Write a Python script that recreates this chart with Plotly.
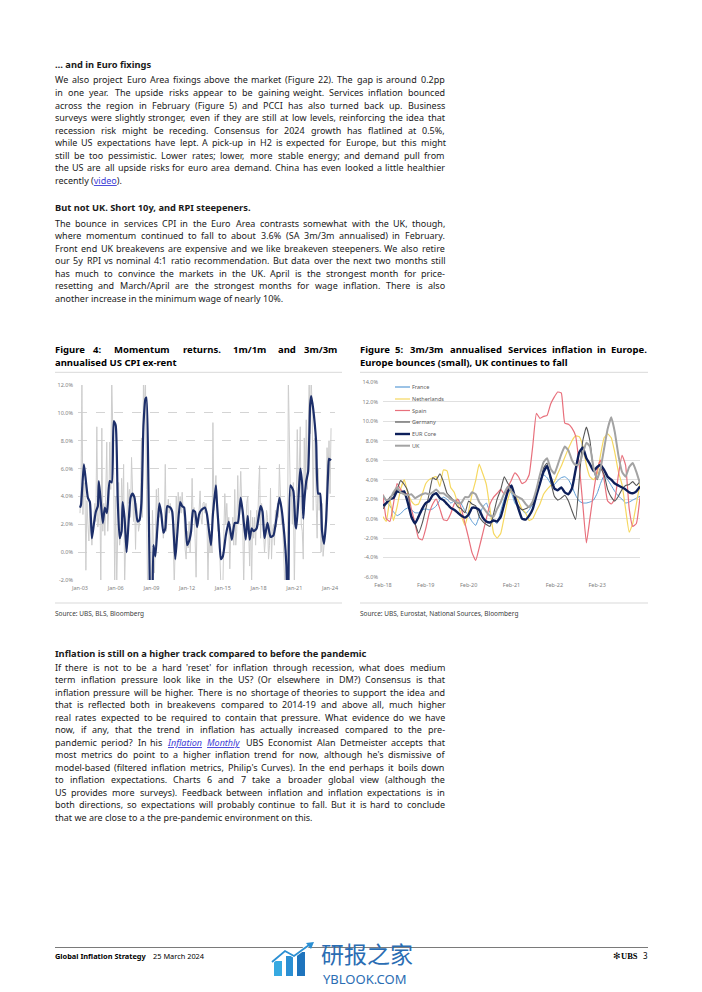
import re
import plotly.graph_objects as go
import pandas as pd

# ---------------- DATA: Figure 4 (US CPI ex-rent, annualised %) ----------------
us_1m1m_start = "2003-01-01"
us_1m1m = [
    2.8, 4.5, 12.5, 2.7, 5.0, 4.9, -1.3, 3.7, 2.0, 0.8, 3.6, 1.2,      # 2003
    0.5, 1.8, 2.5, 3.5, 2.2, 9.0, 1.8, 2.5, 4.2, -2.5, 8.9, 1.5,       # 2004
    3.5, 1.2, 4.0, 7.9, 1.5, 3.0, 7.9, 4.5, 12.5, 9.0, 5.5, -2.5,      # 2005
    4.0, -2.5, 3.0, 5.0, 0.5, 1.2, 5.3, 3.0, 6.3, -2.5, 0.8, 0.5,      # 2006
    5.0, 3.5, 4.5, 2.5, 6.8, 3.5, 2.2, 4.0, 0.2, 3.5, 2.8, 1.5,        # 2007
    2.0, 3.5, 8.2, 2.5, 12.5, 10.0, 12.5, 4.5, -1.0, -12.0, -15.0, -8.0,  # 2008
    -2.5, 3.0, 0.5, -1.5, 0.8, 4.5, 1.0, 4.6, 2.5, 3.2, 3.0, 1.5,      # 2009
    1.0, 2.0, 6.3, 1.5, 3.0, 3.8, 2.8, 3.5, 3.0, 2.5, 1.0, -2.5,       # 2010
    0.5, 4.0, 1.5, 4.3, 3.0, 4.0, 2.8, 4.3, 3.0, 2.5, 0.2, -0.5,       # 2011
    1.5, 0.3, 2.2, 0.0, 1.8, 5.3, 2.5, 3.2, 1.0, -1.8, 2.5, 2.0,       # 2012
    3.0, 4.4, 2.5, 2.0, 3.5, 3.6, 2.8, 3.5, 2.0, -2.0, 1.5, 0.0,       # 2013
    1.5, 0.0, 9.3, 3.0, 4.5, 5.5, 3.5, 1.5, 2.0, -0.5, -2.5, -2.5,     # 2014
    -2.5, 1.5, 4.2, 2.0, 3.5, 1.8, 2.5, -1.2, 1.5, 0.8, 2.5, 0.5,      # 2015
    4.5, 0.5, 1.5, 5.5, 2.0, 3.5, 5.8, 3.5, 2.0, -2.5, 2.0, 1.0,       # 2016
    3.5, 4.0, 1.0, -1.0, 3.0, -2.5, 2.5, 1.0, 2.5, 0.5, 3.0, 1.8,      # 2017
    4.5, 6.2, 1.0, 3.5, 3.0, 1.5, 0.0, 1.0, 3.0, 2.5, -0.5, 0.5,       # 2018
    4.6, -0.5, 1.5, 2.0, 0.5, 3.0, 1.8, 3.5, 2.5, 6.3, 3.0, 2.0,       # 2019
    2.5, 1.0, -1.5, -12.0, -6.0, -3.0, 12.5, 6.0, 4.0, 4.5, 2.0, 5.0,  # 2020
    -2.5, 2.5, 3.0, 8.8, 4.0, 6.0, 9.0, 2.0, 1.5, -0.5, 8.2, 5.0,      # 2021
    9.5, 4.5, 9.8, 12.5, 8.5, 12.5, 10.4, 3.0, 8.0, 8.2, 3.5, 1.0,     # 2022
    6.0, 3.0, 4.0, 0.0, 3.5, -0.3, 0.5, 2.0, 3.0, 7.5, 5.5, 8.0,       # 2023
    4.2, 8.9,                                                          # 2024
]
us_3m3m_dates = [
    "2003-01", "2003-02", "2003-05", "2003-07", "2003-09", "2003-11",
    "2004-01", "2004-03", "2004-05", "2004-07", "2004-08", "2004-10", "2004-12",
    "2005-02", "2005-04", "2005-05", "2005-07", "2005-09", "2005-11",
    "2006-01", "2006-03", "2006-05", "2006-07", "2006-08", "2006-10", "2006-12",
    "2007-02", "2007-04", "2007-06", "2007-08", "2007-11",
    "2008-01", "2008-03", "2008-05", "2008-07", "2008-08", "2008-10", "2008-12",
    "2009-01", "2009-02", "2009-03", "2009-05", "2009-07", "2009-09", "2009-11",
    "2010-01", "2010-03", "2010-05", "2010-08", "2010-10",
    "2011-01", "2011-03", "2011-06", "2011-08", "2011-10",
    "2012-01", "2012-03", "2012-05", "2012-07", "2012-09", "2012-11",
    "2013-01", "2013-03", "2013-07", "2013-09",
    "2014-01", "2014-03", "2014-06", "2014-07", "2014-09", "2014-11",
    "2015-01", "2015-04", "2015-07", "2015-10",
    "2016-01", "2016-04", "2016-07", "2016-09", "2016-12",
    "2017-02", "2017-04", "2017-06", "2017-08", "2017-11",
    "2018-03", "2018-05", "2018-07", "2018-10",
    "2019-01", "2019-04", "2019-07", "2019-10", "2019-12",
    "2020-03", "2020-05", "2020-06", "2020-07", "2020-09", "2020-12",
    "2021-02", "2021-03", "2021-05", "2021-07", "2021-09", "2021-10", "2021-11",
    "2022-01", "2022-03", "2022-05", "2022-06", "2022-08", "2022-11",
    "2023-01", "2023-03", "2023-05", "2023-07", "2023-09", "2023-11", "2023-12",
    "2024-02",
]
us_3m3m = [
    3.2, 3.4, 6.3, 5.1, 3.9, 3.6,
    1.0, 2.0, 2.9, 3.3, 5.1, 3.6, 2.1,
    3.2, 2.8, 3.4, 5.1, 5.0, 9.4,
    9.1, 3.9, 1.0, 1.5, 3.6, 2.4, 0.0,
    2.2, 3.9, 4.2, 3.9, 2.2,
    2.3, 3.6, 9.1, 11.0, 11.1, 4.8, -6.0,
    -9.0, -5.0, 0.5, -0.3, 1.7, 3.5, 2.7,
    1.4, 1.7, 3.3, 3.2, 2.9,
    -0.5, 1.2, 3.6, 3.3, 3.2,
    0.5, 0.8, 1.5, 3.0, 2.9, 1.8,
    2.7, 3.0, 3.2, 2.7,
    0.5, 2.7, 4.8, 3.6, 1.5, -0.5,
    -0.3, 1.2, 2.2, 0.9,
    2.1, 2.1, 3.9, 2.9, 0.9,
    2.6, 0.9, 1.7, 1.5, 1.7,
    3.3, 2.9, 1.0, 2.1,
    1.1, 1.2, 2.4, 3.9, 3.2,
    1.2, -0.9, -4.0, -3.0, 4.8, 4.4,
    2.0, 1.7, 3.6, 6.0, 4.8, 2.4, 3.6,
    5.1, 5.8, 10.6, 11.2, 10.3, 7.9,
    4.2, 4.2, 1.5, 0.6, 2.2, 5.6, 6.7,
    6.6,
]
fig4_xtick_dates = ["2003-01-01", "2006-01-01", "2009-01-01", "2012-01-01",
                    "2015-01-01", "2018-01-01", "2021-01-01", "2024-01-01"]
fig4_xtick_labels = ["Jan-03", "Jan-06", "Jan-09", "Jan-12", "Jan-15", "Jan-18", "Jan-21", "Jan-24"]
fig4_ytick_vals = [-2, 0, 2, 4, 6, 8, 10, 12]
fig4_ytick_labels = ["-2.0%", "0.0%", "2.0%", "4.0%", "6.0%", "8.0%", "10.0%", "12.0%"]

# ---------------- DATA: Figure 5 (3m/3m annualised services inflation, %) ----------------
eu_start = "2018-02-01"
france = [
    2.2, 1.8, 1.3, 0.7, 0.3, 0.5, 0.9, 1.1, 0.9, 0.6, 0.6, 0.9,
    1.0, 0.9, 1.0, 1.3, 1.9, 2.2, 2.0, 1.6, 1.8, 2.0, 1.5, 0.8,
    0.3, -0.3, -0.7, 0.2, 1.2, 1.6, 0.6, -0.2, -0.5, 0.8, 2.0, 2.8,
    2.6, 1.6, 1.2, 0.9, 0.5, 0.9, 1.5, 2.6, 3.8, 4.5, 4.2, 3.6,
    3.5, 3.9, 4.2, 4.3, 4.0, 3.3, 2.4, 1.8, 1.6, 1.6, 1.7, 1.9,
    2.6, 3.6, 4.4, 4.0, 3.4, 2.8, 2.3, 2.0, 1.6, 1.7, 1.9, 2.1, 2.3,
]
netherlands = [
    0.2, -0.3, 2.0, -0.2, 1.2, 3.0, 4.0, 2.6, 1.8, 1.4, 1.5, 2.5,
    3.6, 4.0, 4.2, 4.3, 3.3, 5.0, 4.9, 3.2, 2.7, 1.5, 0.3, -0.7,
    0.8, 2.5, 3.9, 5.6, 4.6, 3.5, 1.0, -1.5, -2.0, -1.5, 0.2, 2.0,
    3.0, 2.4, 1.8, 1.0, 0.6, -0.2, 0.0, 0.8, 1.5, 2.5, 3.0, 3.4,
    3.8, 4.6, 5.4, 6.3, 7.2, 8.0, 8.5, 8.4, 7.5, 5.5, 4.3, 4.0,
    4.6, 6.5, 8.3, 8.7, 8.3, 6.8, 4.8, 3.5, 1.0, -1.4, -0.5, 1.5, 3.6,
]
spain = [
    2.5, 0.0, -0.3, 1.5, 3.6, 3.0, 2.6, 2.5, 1.0, -0.5, -2.0, -2.2,
    -1.0, 0.5, 1.5, 2.0, 1.0, -0.1, -0.2, 0.5, 1.5, 2.0, 1.0, -0.5,
    -2.0, -3.5, -4.3, -3.0, -1.5, 0.0, 1.5, 2.2, 2.6, 3.0, 2.5, 3.2,
    4.0, 4.7, 4.3, 3.6, 3.8, 4.5, 7.5, 10.8, 10.3, 10.5, 10.6, 11.8,
    12.5, 13.0, 12.9, 9.8, 9.7, 9.3, 8.5, 5.5, 1.5, -2.5, 0.0, 2.7,
    5.0, 6.0, 4.0, 1.8, 1.5, 2.0, 4.5, 6.5, 5.5, 1.0, -0.8, -0.5, 2.2,
]
germany = [
    1.0, 1.5, 2.2, 2.5, 3.0, 3.9, 3.5, 2.8, 0.0, -0.5, -1.5, -0.5,
    1.0, 2.5, 4.2, 4.0, 4.6, 3.8, 2.6, 2.2, 1.8, 1.2, 1.0, 0.6,
    1.8, 1.5, 1.3, 0.2, -0.3, -0.6, -0.8, 0.5, 2.0, 3.0, 4.3, 3.6,
    3.2, 2.0, 1.3, 0.9, 1.0, 1.2, 1.5, 2.5, 3.6, 5.2, 5.7, 3.8,
    2.3, 1.9, 2.1, 2.4, 1.8, 0.8, -0.1, 4.0, 8.0, 9.4, 8.0, 5.0,
    4.0, 5.2, 4.5, 3.0, 2.2, 1.8, 2.3, 3.0, 3.4, 3.5, 3.8, 3.4, 3.8,
]
eur_core = [
    1.3, 1.6, 2.0, 2.1, 2.8, 2.7, 2.8, 1.6, 0.2, -0.5, 0.2, 1.0,
    1.6, 1.8, 2.4, 2.6, 2.1, 1.9, 1.5, 1.1, 0.9, 0.6, 0.3, 0.1,
    0.4, 1.1, 1.1, 0.9, 0.1, -0.3, -0.4, -0.2, -0.3, 0.2, 1.5, 2.8,
    3.4, 2.2, 1.0, 0.0, -0.1, 0.3, 1.0, 2.4, 3.6, 4.8, 5.4, 4.2,
    3.1, 2.9, 3.2, 2.7, 2.5, 3.1, 5.0, 6.8, 7.3, 6.2, 5.6, 4.9,
    5.3, 5.5, 5.0, 4.3, 4.0, 3.6, 3.4, 3.2, 3.0, 2.7, 2.6, 2.8, 3.3,
]
uk = [
    2.4, 1.9, 2.0, 2.7, 3.2, 2.7, 2.5, 2.4, 2.5, 2.1, 2.3, 2.5,
    2.6, 2.5, 2.7, 3.0, 2.6, 2.6, 2.3, 2.0, 1.8, 1.6, 1.6, 2.2,
    2.2, 2.7, 2.5, 1.7, 1.2, 0.7, 0.3, 0.2, 1.0, 1.7, 2.6, 3.3,
    2.8, 2.4, 2.2, 2.0, 1.5, 1.2, 1.8, 3.0, 4.5, 5.8, 6.2, 5.1,
    4.6, 5.5, 6.6, 7.4, 7.0, 6.0, 5.5, 5.6, 6.7, 7.8, 7.4, 5.2,
    4.1, 5.1, 7.2, 9.2, 10.4, 8.9, 6.5, 4.8, 4.3, 5.3, 5.7, 4.8, 3.6,
]
eu_series_names = ["France", "Netherlands", "Spain", "Germany", "EUR Core", "UK"]
eu_series_values = [france, netherlands, spain, germany, eur_core, uk]
fig5_xtick_dates = ["2018-02-01", "2019-02-01", "2020-02-01", "2021-02-01", "2022-02-01", "2023-02-01"]
fig5_xtick_labels = ["Feb-18", "Feb-19", "Feb-20", "Feb-21", "Feb-22", "Feb-23"]
fig5_ytick_vals = [-6, -4, -2, 0, 2, 4, 6, 8, 10, 12, 14]
fig5_ytick_labels = ["-6.0%", "-4.0%", "-2.0%", "0.0%", "2.0%", "4.0%", "6.0%",
                     "8.0%", "10.0%", "12.0%", "14.0%"]

# ---------------- TEXT ----------------
# [..] = hyperlink, {..} = italic hyperlink
sec1_head = "… and in Euro fixings"
sec1_lines = [
    "We also project Euro Area fixings above the market (Figure 22). The gap is around 0.2pp",
    "in one year. The upside risks appear to be gaining weight. Services inflation bounced",
    "across the region in February (Figure 5) and PCCI has also turned back up. Business",
    "surveys were slightly stronger, even if they are still at low levels, reinforcing the idea that",
    "recession risk might be receding. Consensus for 2024 growth has flatlined at 0.5%,",
    "while US expectations have lept. A pick-up in H2 is expected for Europe, but this might",
    "still be too pessimistic. Lower rates; lower, more stable energy; and demand pull from",
    "the US are all upside risks for euro area demand. China has even looked a little healthier",
    "recently ([video]).",
]
sec2_head = "But not UK. Short 10y, and RPI steepeners."
sec2_lines = [
    "The bounce in services CPI in the Euro Area contrasts somewhat with the UK, though,",
    "where momentum continued to fall to about 3.6% (SA 3m/3m annualised) in February.",
    "Front end UK breakevens are expensive and we like breakeven steepeners. We also retire",
    "our 5y RPI vs nominal 4:1 ratio recommendation. But data over the next two months still",
    "has much to convince the markets in the UK. April is the strongest month for price-",
    "resetting and March/April are the strongest months for wage inflation. There is also",
    "another increase in the minimum wage of nearly 10%.",
]
sec3_head = "Inflation is still on a higher track compared to before the pandemic"
sec3_lines = [
    "If there is not to be a hard 'reset' for inflation through recession, what does medium",
    "term inflation pressure look like in the US? (Or elsewhere in DM?) Consensus is that",
    "inflation pressure will be higher. There is no shortage of theories to support the idea and",
    "that is reflected both in breakevens compared to 2014-19 and above all, much higher",
    "real rates expected to be required to contain that pressure. What evidence do we have",
    "now, if any, that the trend in inflation has actually increased compared to the pre-",
    "pandemic period? In his {Inflation} {Monthly} UBS Economist Alan Detmeister accepts that",
    "most metrics do point to a higher inflation trend for now, although he's dismissive of",
    "model-based (filtered inflation metrics, Philip's Curves). In the end perhaps it boils down",
    "to inflation expectations. Charts 6 and 7 take a broader global view (although the",
    "US provides more surveys). Feedback between inflation and inflation expectations is in",
    "both directions, so expectations will probably continue to fall. But it is hard to conclude",
    "that we are close to a the pre-pandemic environment on this.",
]
fig4_title_words = ["Figure", "4:", "Momentum", "returns.", "1m/1m", "and", "3m/3m"]
fig4_title_line2 = "annualised US CPI ex-rent"
fig5_title_line1 = "Figure 5: 3m/3m annualised Services inflation in Europe."
fig5_title_line2 = "Europe bounces (small), UK continues to fall"
fig4_source = "Source: UBS, BLS, Bloomberg"
fig5_source = "Source: UBS, Eurostat, National Sources, Bloomberg"

# ---------------- LAYOUT HELPERS ----------------
# The page body has an 8px margin, so the figure is drawn 8px in from the window corner.
OFF = 8
W, H = 702, 992
FW, FH = W - OFF, H - OFF
FONT = "Noto Sans"
TXT = "#1a1a1a"
LINK = "#3b3bd6"


def px(x):
    return (x - OFF) / FW


def py(y):
    return 1 - (y - OFF) / FH


annotations = []
shapes = []


def text(x, y, s, size=9.0, bold=False, color=TXT, anchor="left", family=FONT, yanchor="middle"):
    if bold:
        s = "<b>" + s + "</b>"
    annotations.append(dict(x=px(x), y=py(y), xref="paper", yref="paper", text=s,
                            showarrow=False, xanchor=anchor, yanchor=yanchor,
                            borderpad=0, borderwidth=0, align="left",
                            font=dict(family=family, size=size, color=color)))


def hline(x0, x1, y, color="#d9d9d9", width=1):
    shapes.append(dict(type="line", xref="paper", yref="paper", x0=px(x0), x1=px(x1),
                       y0=py(y), y1=py(y), line=dict(color=color, width=width)))


# approximate advance widths (em) of the sans text face, used to justify lines
CW = dict(zip("abcdefghijklmnopqrstuvwxyz",
              [.556, .613, .48, .613, .561, .336, .546, .614, .252, .252, .529, .252, .931,
               .614, .602, .613, .613, .408, .477, .353, .614, .5, .774, .518, .5, .468]))
CW.update(zip("ABCDEFGHIJKLMNOPQRSTUVWXYZ",
              [.633, .647, .631, .729, .556, .516, .728, .738, .279, .267, .614, .519, .903,
               .754, .779, .602, .779, .618, .549, .553, .729, .595, .94, .577, .564, .572]))
CW.update({d: .572 for d in "0123456789"})
CW.update({" ": .26, ".": .268, ",": .258, "(": .296, ")": .296, "%": .846, "-": .322,
           ";": .268, ":": .268, "/": .372, "'": .221, "?": .429})
CAL = 1.008


def plain(s):
    return s.replace("[", "").replace("]", "").replace("{", "").replace("}", "")


def markup(s):
    s = re.sub(r"\{([^}]*)\}", lambda m: f"<i><span style='color:{LINK};text-decoration:underline'>{m.group(1)}</span></i>", s)
    s = re.sub(r"\[([^\]]*)\]", lambda m: f"<span style='color:{LINK};text-decoration:underline'>{m.group(1)}</span>", s)
    return s


def est(s, size, k=CAL):
    return k * size * sum(CW.get(c, 0.56) for c in plain(s))


def justify(words, x0, x1, y, size, k=CAL, bold=False, color=TXT):
    widths = [est(w, size, k) for w in words]
    gap = (x1 - x0 - sum(widths)) / (len(words) - 1)
    x = x0
    for w, wd in zip(words, widths):
        text(x, y, markup(w), size=size, bold=bold, color=color)
        x += wd + gap


def paragraph(lines, y0, size=9.0, x0=55, x1=445, lh=12.5):
    for i, line in enumerate(lines):
        y = y0 + i * lh
        if i == len(lines) - 1:
            text(x0, y, markup(line), size=size)
        else:
            justify(line.split(" "), x0, x1, y, size)


# ---------------- FIGURE ----------------
fig = go.Figure()

us_months = pd.date_range(us_1m1m_start, periods=len(us_1m1m), freq="MS")
fig.add_trace(go.Scatter(x=us_months, y=us_1m1m, mode="lines", name="1m/1m",
                         line=dict(color="#cdcdcd", width=1), xaxis="x", yaxis="y",
                         showlegend=False, hoverinfo="skip"))
fig.add_trace(go.Scatter(x=pd.to_datetime(us_3m3m_dates), y=us_3m3m, mode="lines", name="3m/3m",
                         line=dict(color="#1d2f6a", width=2.2, shape="spline", smoothing=0.5),
                         xaxis="x", yaxis="y", showlegend=False, hoverinfo="skip"))

eu_months = pd.date_range(eu_start, periods=len(eur_core), freq="MS")
eu_styles = {
    "France": dict(color="#5b9bd5", width=1.0),
    "Netherlands": dict(color="#f6d860", width=1.2),
    "Spain": dict(color="#e8707c", width=1.2),
    "Germany": dict(color="#575757", width=1.1),
    "EUR Core": dict(color="#0d1f5a", width=2.4),
    "UK": dict(color="#a3a3a3", width=2.0),
}
for name, vals in zip(eu_series_names, eu_series_values):
    st = eu_styles[name]
    fig.add_trace(go.Scatter(x=eu_months, y=vals, mode="lines", name=name,
                             line=dict(color=st["color"], width=st["width"], shape="spline", smoothing=0.4),
                             xaxis="x2", yaxis="y2", showlegend=False, hoverinfo="skip"))

# Legend of figure 5 (key lines + labels inside the plot)
leg_y = [387, 399, 410.5, 422, 434, 445.7]
for name, yy in zip(eu_series_names, leg_y):
    st = eu_styles[name]
    shapes.append(dict(type="line", xref="paper", yref="paper", x0=px(395), x1=px(410),
                       y0=py(yy), y1=py(yy), line=dict(color=st["color"], width=max(st["width"], 1.2))))
    text(412, yy, name, size=5.5, color="#595959")

tickfont = dict(family=FONT, size=5.5, color="#808080")
axis_common = dict(showline=False, zeroline=False, ticks="", tickfont=tickfont,
                   fixedrange=True, automargin=False)

fig.update_layout(
    xaxis=dict(domain=[px(78), px(335)], anchor="y", type="date",
               range=["2002-11-01", "2024-06-01"], tickvals=fig4_xtick_dates,
               ticktext=fig4_xtick_labels, showgrid=False, ticklabelstandoff=3, **axis_common),
    yaxis=dict(domain=[py(580), py(385)], anchor="x", range=[-2, 12],
               tickvals=fig4_ytick_vals, ticktext=fig4_ytick_labels,
               showgrid=True, gridcolor="#d4d4d4", gridwidth=0.8, griddash="dash",
               ticklabelstandoff=4, **axis_common),
    xaxis2=dict(domain=[px(383), px(640)], anchor="y2", type="date",
                range=["2018-02-01", "2024-02-01"], tickvals=fig5_xtick_dates,
                ticktext=fig5_xtick_labels, showgrid=False, ticklabelstandoff=3, **axis_common),
    yaxis2=dict(domain=[py(577), py(382.3)], anchor="x2", range=[-6, 14],
                tickvals=fig5_ytick_vals, ticktext=fig5_ytick_labels,
                showgrid=True, gridcolor="#e0e0e0", gridwidth=0.8,
                ticklabelstandoff=4, **axis_common),
)

# ---------------- PAGE TEXT ----------------
text(55, 64.3, sec1_head, size=9.3, bold=True)
paragraph(sec1_lines, 80.0)
text(55, 207.7, sec2_head, size=9.3, bold=True)
paragraph(sec2_lines, 223.3)

# figure titles
fig4_word_x = [55, 93, 114, 183, 233, 278, 304]
for w, xw in zip(fig4_title_words, fig4_word_x):
    text(xw, 349.3, w, size=9.5, bold=True, color="#000000")
text(55, 362.7, fig4_title_line2, size=9.5, bold=True, color="#000000")
kb = 264.0 / est(fig5_title_line1, 9.5, 1.0)
justify(fig5_title_line1.split(" "), 360, 648, 349.3, 9.5, k=kb, bold=True, color="#000000")
text(360, 362.7, fig5_title_line2, size=9.5, bold=True, color="#000000")
hline(55, 342, 372.3)
hline(360, 648, 372.3)
hline(55, 342, 603)
hline(360, 648, 603)
text(55, 613, fig4_source, size=6.5, color="#404040")
text(360, 613, fig5_source, size=6.5, color="#404040")

text(55, 653.3, sec3_head, size=9.3, bold=True)
paragraph(sec3_lines, 667.3)

# ---------------- FOOTER ----------------
hline(55, 648, 947.5, color="#7a7a7a", width=1)
text(55, 955.5, "Global Inflation Strategy", size=7.4, bold=True, color="#000000")
text(153, 955.5, "25 March 2024", size=7.4, color="#000000")
text(638, 955.5, "✻<b>UBS</b>", size=8.5, color="#000000", anchor="right", family="Liberation Serif")
text(648, 955.5, "3", size=8, color="#000000", anchor="right")

# watermark
text(321, 952.5, "研报之家", size=23, color="#2a6db3", family="Noto Sans CJK SC")
text(323, 978.5, "YBLOOK.COM", size=13, color="#2a6db3")
bar_cols = ["#36a9e1", "#2b8fd3", "#1f74bd"]
bars = [(274, 282, 961), (286, 293, 956), (297, 305, 952)]
for (x0, x1, top), c in zip(bars, bar_cols):
    shapes.append(dict(type="rect", xref="paper", yref="paper", x0=px(x0), x1=px(x1),
                       y0=py(976), y1=py(top), fillcolor=c, line=dict(width=0)))
arrow_pts = [(272, 962), (285, 951), (294, 956), (309, 945)]
path = "M " + " L ".join(f"{px(a):.5f},{py(b):.5f}" for a, b in arrow_pts)
shapes.append(dict(type="path", xref="paper", yref="paper", path=path,
                   line=dict(color="#ffffff", width=3.2)))
shapes.append(dict(type="path", xref="paper", yref="paper", path=path,
                   line=dict(color="#2b8fd3", width=1.8)))
head = [(314, 942), (306, 943), (311, 949)]
shapes.append(dict(type="path", xref="paper", yref="paper",
                   path="M " + " L ".join(f"{px(a):.5f},{py(b):.5f}" for a, b in head) + " Z",
                   fillcolor="#2b8fd3", line=dict(width=0)))

fig.update_layout(
    width=FW, height=FH, autosize=False,
    margin=dict(l=0, r=0, t=0, b=0, pad=0, autoexpand=False),
    paper_bgcolor="#ffffff", plot_bgcolor="#ffffff",
    annotations=annotations, shapes=shapes, showlegend=False,
    font=dict(family=FONT, color=TXT),
)

fig.write_html("out.html", config={"displayModeBar": False})
